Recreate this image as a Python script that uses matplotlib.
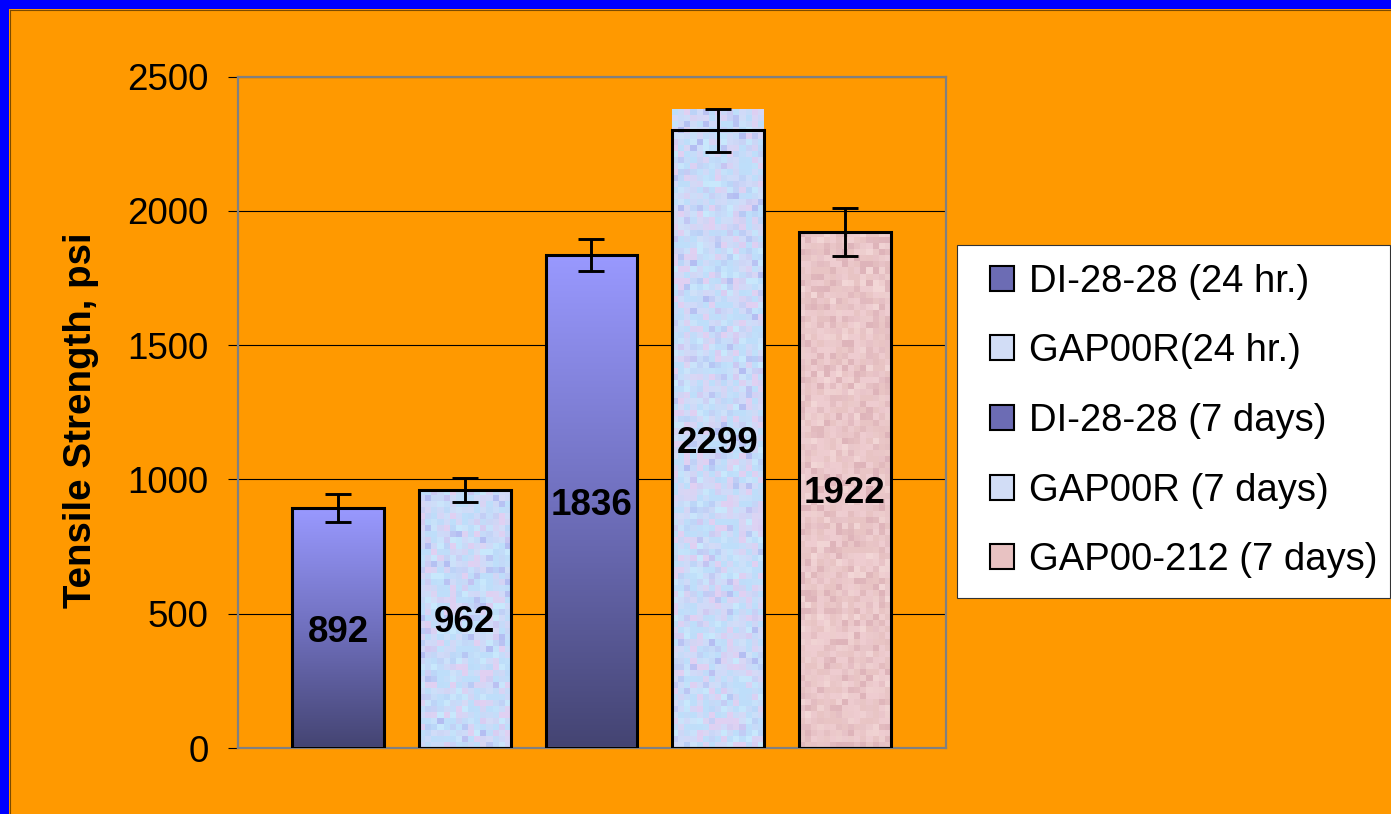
import numpy as np
import matplotlib
matplotlib.use("Agg")
import matplotlib.pyplot as plt
from matplotlib.patches import Rectangle, Patch
from matplotlib.lines import Line2D

plt.rcParams['font.family'] = ['Liberation Sans', 'DejaVu Sans']

# ---- data ----
categories = ["DI-28-28 (24 hr.)", "GAP00R(24 hr.)", "DI-28-28 (7 days)",
              "GAP00R (7 days)", "GAP00-212 (7 days)"]
values = [892, 962, 1836, 2299, 1922]
errors = [52, 45, 60, 80, 90]
yticks = [0, 500, 1000, 1500, 2000, 2500]
ylabel = "Tensile Strength, psi"

# ---- styles ----
fill_kind = ["gradient", "blue_tex", "gradient", "blue_tex", "pink_tex"]
legend_colors = ["#6C6CB4", "#D2DDF6", "#6C6CB4", "#D2DDF6", "#E8C2C2"]
texture_overhang = [False, False, False, True, False]  # rendering artefact in source

W, H, DPI = 1391, 814, 100
ORANGE = "#FF9900"
FS = 26.5

fig = plt.figure(figsize=(W / DPI, H / DPI), dpi=DPI, facecolor=ORANGE)
ax = fig.add_axes([238 / W, 1 - 748 / H, (945.5 - 238) / W, (748 - 76.5) / H])
ax.set_facecolor(ORANGE)

x = np.arange(len(values))
bw = 0.725

# frame bars (outline only)
bars = ax.bar(x, values, width=bw, facecolor='none', edgecolor='black',
              linewidth=2.2, zorder=3)

rng = np.random.default_rng(7)


def texture(base, variants, rows, cols):
    base = np.array(base, float)
    variants = [np.array(v, float) for v in variants]
    img = np.tile(base, (rows, cols, 1))
    for v in variants:
        w = rng.random((rows, cols, 1))
        w = np.clip((w - 0.5) * 2.6, 0, 1)
        img = img * (1 - w) + v * w
    return np.clip(img / 255.0, 0, 1)


for i, (xi, v, e) in enumerate(zip(x, values, errors)):
    x0, x1 = xi - bw / 2, xi + bw / 2
    top = v + e if texture_overhang[i] else v
    if fill_kind[i] == "gradient":
        t = np.linspace(0, 1, 256)[:, None]
        c_top = np.array([153, 153, 255]) / 255
        c_mid = np.array([112, 112, 190]) / 255
        c_bot = np.array([68, 68, 114]) / 255
        img = np.where(t < 0.5, c_top + (c_mid - c_top) * (t / 0.5),
                       c_mid + (c_bot - c_mid) * ((t - 0.5) / 0.5))
        img = img[:, None, :] * np.ones((1, 2, 1))
        ax.imshow(img, extent=[x0, x1, 0, top], aspect='auto',
                  interpolation='bilinear', zorder=2, origin='upper')
    else:
        rows = max(int(top / 2500 * 671 / 6), 2)
        cols = 15
        if fill_kind[i] == "blue_tex":
            img = texture((208, 218, 248),
                          [(180, 190, 242), (200, 232, 252), (224, 208, 242), (190, 222, 250)],
                          rows, cols)
        else:
            img = texture((232, 196, 196),
                          [(242, 214, 214), (222, 180, 186), (238, 204, 208)],
                          rows, cols)
        ax.imshow(img, extent=[x0, x1, 0, top], aspect='auto',
                  interpolation='nearest', zorder=2, origin='upper')

ax.errorbar(x, values, yerr=errors, fmt='none', ecolor='black',
            elinewidth=2.1, capsize=9.7, capthick=2.1, zorder=4)

for xi, v in zip(x, values):
    ax.text(xi, v / 2, str(v), ha='center', va='center_baseline', fontsize=FS,
            fontweight='bold', color='black', zorder=5)

ax.set_xlim(-0.79, 4.795)
ax.set_ylim(0, 2500)
ax.set_yticks(yticks)
ax.set_xticks([])
ax.tick_params(axis='y', direction='out', length=7.2, width=0.8, color='black',
               labelsize=FS, pad=14)
ax.yaxis.grid(True, color='black', linewidth=0.8)
ax.set_axisbelow(True)
for s in ax.spines.values():
    s.set_color('#808080')
    s.set_linewidth(1.6)

ax.set_ylabel(ylabel, fontsize=27.7, fontweight='bold')
ax.yaxis.label.set_va('center')
ax.yaxis.set_label_coords((81 - 238) / (945.5 - 238), (748 - 420) / (748 - 76.5))

# legend box
lx0, ly0, lx1, ly1 = 957, 245, 1390, 598
fig.patches.append(Rectangle((lx0 / W, 1 - ly1 / H), (lx1 - lx0) / W, (ly1 - ly0) / H,
                             transform=fig.transFigure, facecolor='white',
                             edgecolor='#333333', linewidth=0.8, zorder=1))
handles = [Patch(facecolor=c, edgecolor='black', linewidth=1.5) for c in legend_colors]
fig.legend(handles, categories, loc='center left',
           bbox_to_anchor=(990 / W, 1 - 421 / H), frameon=False,
           fontsize=27.5, borderpad=0, borderaxespad=0, handlelength=0.63,
           handleheight=0.63, handletextpad=0.38, labelspacing=0.88)

# blue border top/left
fig.patches.append(Rectangle((0, 1 - 9 / H), 1, 9 / H, transform=fig.transFigure,
                             facecolor='#0000FF', edgecolor='none', zorder=2))
fig.patches.append(Rectangle((0, 0), 9 / W, 1, transform=fig.transFigure,
                             facecolor='#0000FF', edgecolor='none', zorder=2))
fig.lines.append(Line2D([9.5 / W, 1], [1 - 9.5 / H, 1 - 9.5 / H], transform=fig.transFigure,
                        color='#7A4A00', linewidth=0.8))
fig.lines.append(Line2D([9.5 / W, 9.5 / W], [0, 1 - 9.5 / H], transform=fig.transFigure,
                        color='#7A4A00', linewidth=0.8))

fig.savefig("out.png", dpi=DPI, facecolor=ORANGE)
